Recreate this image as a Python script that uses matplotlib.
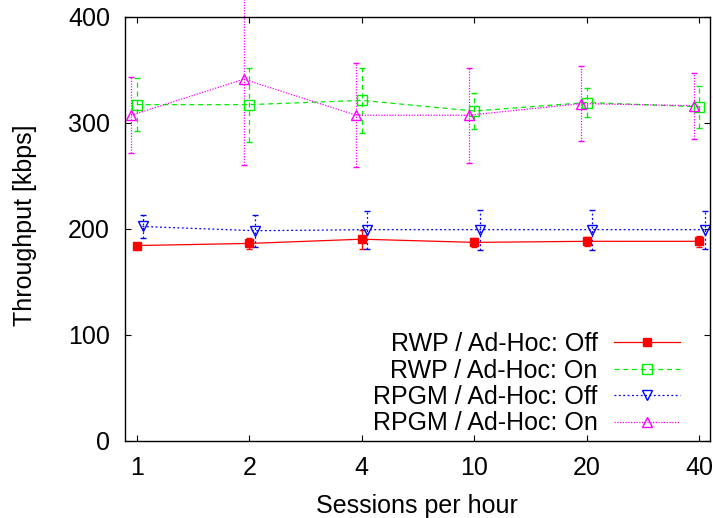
import matplotlib
matplotlib.use("Agg")
import matplotlib.pyplot as plt
import numpy as np

plt.rcParams['font.family'] = ['Liberation Sans', 'DejaVu Sans']

# ---- data ----
sessions = ["1", "2", "4", "10", "20", "40"]
series_labels = ["RWP / Ad-Hoc: Off", "RWP / Ad-Hoc: On",
                 "RPGM / Ad-Hoc: Off", "RPGM / Ad-Hoc: On"]
rwp_off = [184, 186, 190, 187, 188, 188]
rwp_off_err = [2, 5, 9, 4, 4, 5]
rwp_on = [317, 317, 321, 311, 319, 315]
rwp_on_err = [25, 35, 31, 17, 14, 20]
rpgm_off = [202, 198, 199, 199, 199, 199]
rpgm_off_err = [11, 15, 18, 19, 19, 18]
rpgm_on = [307, 341, 307, 307, 318, 316]
rpgm_on_err = [36, 81, 49, 45, 35, 31]
y_ticks = [0, 100, 200, 300, 400]

# ---- styles ----
styles = [
    dict(color="#ff0000", ls="-", marker="s", mfc="#ff0000", ms=6.3, off=0.0),
    dict(color="#00ee00", ls=(0, (4, 3)), marker="s", mfc="none", ms=6.5, off=0.0),
    dict(color="#0000ff", ls=(0, (1.5, 2.0)), marker="v", mfc="none", ms=7.0, off=0.05),
    dict(color="#ff00ff", ls=(0, (1.0, 1.2)), marker="^", mfc="none", ms=7.0, off=-0.05),
]
values = [rwp_off, rwp_on, rpgm_off, rpgm_on]
errors = [rwp_off_err, rwp_on_err, rpgm_off_err, rpgm_on_err]

fig = plt.figure(figsize=(7.13, 5.18), dpi=100)
ax = fig.add_axes([125.3 / 713, 1 - 440.5 / 518, (709.5 - 125.3) / 713, (440.5 - 16.7) / 518])

x = np.arange(len(sessions))
handles = []
for vals, errs, st, lab in zip(values, errors, styles, series_labels):
    eb = ax.errorbar(x + st["off"], vals, yerr=errs, color=st["color"], ls=st["ls"],
                     lw=0.9, marker=st["marker"], ms=st["ms"], mfc=st["mfc"],
                     mec=st["color"], mew=1.0, capsize=2.2, capthick=0.9,
                     elinewidth=0.9, label=lab)
    for lc in eb[2]:
        lc.set_linestyle(st["ls"])
        lc.set_clip_on(False)
    for cap in eb[1]:
        cap.set_clip_on(False)
    handles.append(eb[0])

ax.set_xlim(-0.103, 5.092)
ax.set_ylim(0, 400)
ax.set_xticks(x)
ax.set_xticklabels(sessions)
ax.set_yticks(y_ticks)
ax.tick_params(axis="both", direction="in", length=4.3, width=0.8, labelsize=18,
               top=True, right=True)
ax.tick_params(axis="y", pad=11.0)
ax.tick_params(axis="x", pad=11.5)
for sp in ax.spines.values():
    sp.set_linewidth(1.0)

ax.set_xlabel("Sessions per hour", fontsize=18, labelpad=9.5)
ax.set_ylabel("Throughput [kbps]", fontsize=18)
ax.yaxis.set_label_coords(-0.1517, 0.508)

ax.legend(handles=handles, labels=series_labels, loc="lower right",
          bbox_to_anchor=(0.958, 0.0), frameon=False, fontsize=18,
          markerfirst=False, handlelength=2.65, handletextpad=0.65,
          labelspacing=0.1, borderpad=0.0, borderaxespad=0.2)

fig.savefig("out.png", dpi=100)
